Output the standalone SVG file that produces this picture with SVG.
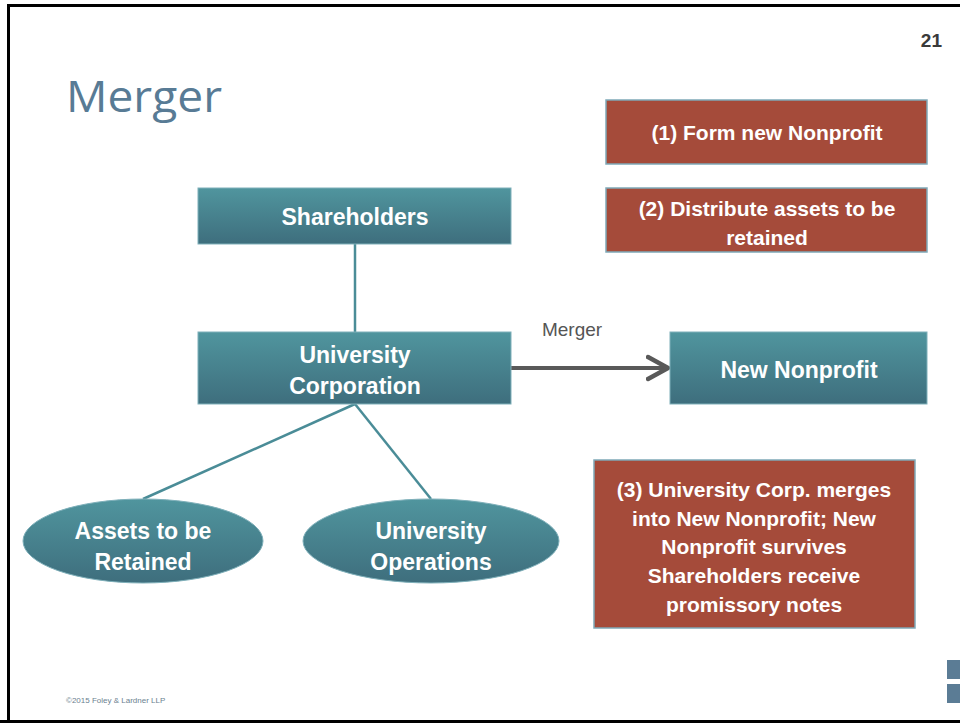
<svg xmlns="http://www.w3.org/2000/svg" width="960" height="723" viewBox="0 0 960 723">
<defs>
<linearGradient id="teal" x1="0" y1="0" x2="0" y2="1">
<stop offset="0" stop-color="#50959E"/>
<stop offset="1" stop-color="#3E6E7D"/>
</linearGradient>
<marker id="chev" markerWidth="28" markerHeight="30" refX="22" refY="13" orient="auto" markerUnits="userSpaceOnUse" viewBox="0 0 28 26">
<path d="M2,2 L22,13 L2,24" fill="none" stroke="#595959" stroke-width="4.5" stroke-linecap="round" stroke-linejoin="round"/>
</marker>
<style>
.box{fill:url(#teal);stroke:#7FB0BA;stroke-width:1}
.red{fill:#A54B3A;stroke:#7FA9B8;stroke-width:1.5}
.t{font-family:"Liberation Sans",Arial,sans-serif;font-weight:bold;fill:#fff;text-anchor:middle;font-size:23px}
.tr{font-family:"Liberation Sans",Arial,sans-serif;font-weight:bold;fill:#fff;text-anchor:middle;font-size:21px}
.link{stroke:#4A8C97;stroke-width:2.5;fill:none}
</style>
</defs>
<rect x="0" y="0" width="960" height="723" fill="#fff"/>
<path d="M8.5,723 V5.5 H960" fill="none" stroke="#000" stroke-width="3"/>
<line x1="0" y1="721.5" x2="960" y2="721.5" stroke="#000" stroke-width="3"/>
<text x="66" y="112" font-family="'Open Sans','Liberation Sans',sans-serif" font-size="44" fill="#587B95" textLength="156" lengthAdjust="spacingAndGlyphs">Merger</text>
<text x="942" y="47" font-family="'Liberation Sans',Arial,sans-serif" font-weight="bold" font-size="19" fill="#3A3A3A" text-anchor="end">21</text>
<text x="66" y="703" font-family="'Liberation Sans',Arial,sans-serif" font-size="8" fill="#6B7F90">©2015 Foley &amp; Lardner LLP</text>
<rect x="947" y="660" width="13" height="19" fill="#5B7C95"/>
<rect x="947" y="684" width="13" height="19" fill="#5B7C95"/>

<g id="connectors">
<line class="link" x1="355" y1="244" x2="355" y2="332"/>
<line class="link" x1="355" y1="404" x2="143" y2="499"/>
<line class="link" x1="355" y1="404" x2="431" y2="499"/>
<line x1="511" y1="368" x2="668" y2="368" stroke="#595959" stroke-width="4" marker-end="url(#chev)"/>
<text x="572" y="336" font-family="'Liberation Sans',Arial,sans-serif" font-size="19" fill="#555" text-anchor="middle">Merger</text>
</g>

<g id="shareholders">
<rect class="box" x="198" y="188" width="313" height="56"/>
<text class="t" x="355" y="225">Shareholders</text>
</g>
<g id="university-corporation">
<rect class="box" x="198" y="332" width="313" height="72"/>
<text class="t" x="355" y="363">University</text>
<text class="t" x="355" y="394">Corporation</text>
</g>
<g id="new-nonprofit">
<rect class="box" x="670" y="332" width="257" height="72"/>
<text class="t" x="799" y="378">New Nonprofit</text>
</g>
<g id="assets-retained">
<ellipse class="box" cx="143" cy="541" rx="120" ry="42"/>
<text class="t" x="143" y="539">Assets to be</text>
<text class="t" x="143" y="570">Retained</text>
</g>
<g id="university-operations">
<ellipse class="box" cx="431" cy="541" rx="128" ry="42"/>
<text class="t" x="431" y="539">University</text>
<text class="t" x="431" y="570">Operations</text>
</g>
<g id="step1">
<rect class="red" x="606" y="100" width="321" height="64"/>
<text class="tr" x="767" y="140">(1) Form new Nonprofit</text>
</g>
<g id="step2">
<rect class="red" x="606" y="188" width="321" height="64"/>
<text class="tr" x="767" y="216">(2) Distribute assets to be</text>
<text class="tr" x="767" y="245">retained</text>
</g>
<g id="step3">
<rect class="red" x="594" y="460" width="321" height="168"/>
<text class="tr" x="754" y="497">(3) University Corp. merges</text>
<text class="tr" x="754" y="526">into New Nonprofit; New</text>
<text class="tr" x="754" y="554">Nonprofit survives</text>
<text class="tr" x="754" y="583">Shareholders receive</text>
<text class="tr" x="754" y="612">promissory notes</text>
</g>
</svg>
